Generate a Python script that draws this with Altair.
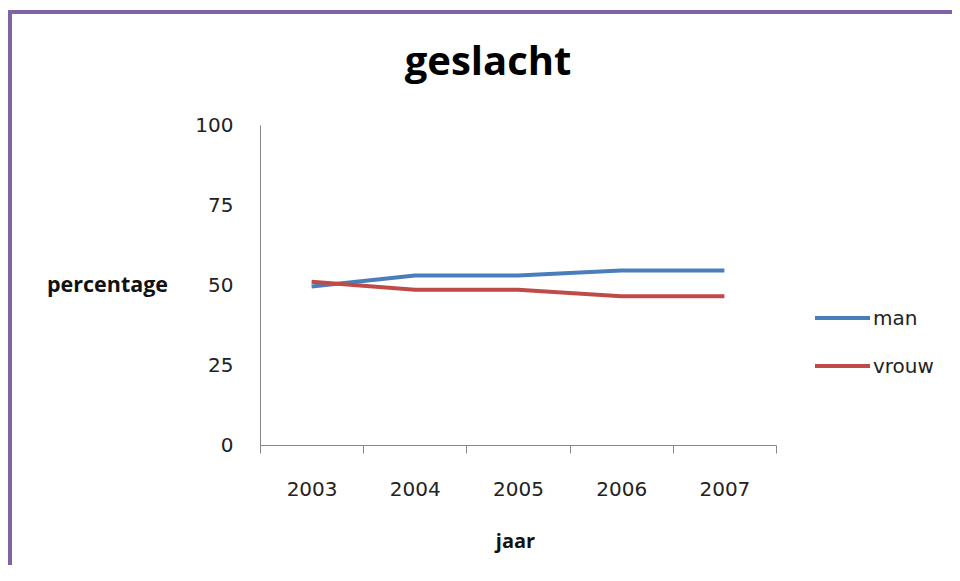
import altair as alt
import pandas as pd

years = ["2003", "2004", "2005", "2006", "2007"]
man = [49.5, 53, 53, 54.5, 54.5]
vrouw = [51, 48.5, 48.5, 46.5, 46.5]
series = ["man", "vrouw"]
colors = ["#4A7EBB", "#BE4B48"]
y_ticks = [0, 25, 50, 75, 100]
title_text = "geslacht"

rows = []
for s, vals in zip(series, [man, vrouw]):
    for yr, v in zip(years, vals):
        rows.append({"jaar": yr, "percentage": v, "reeks": s})
df = pd.DataFrame(rows)

# plot area origin on page: (260, 125)
OX, OY = 260, 125
W, H = 516, 320

tick_font = "DejaVu Sans"
title_font = "Open Sans"

lines = alt.Chart(df).mark_line(strokeWidth=4).encode(
    x=alt.X(
        "jaar:O",
        bandPosition=0.5,
        scale=alt.Scale(type="band", paddingInner=0, paddingOuter=0),
        axis=alt.Axis(
            title="jaar",
            labelAngle=0,
            tickBand="extent",
            tickSize=8,
            tickColor="#868686",
            domainColor="#868686",
            labelFont=tick_font,
            labelFontSize=20,
            labelColor="#222222",
            labelBaseline="top",
            labelPadding=26,
            titleFont=title_font,
            titleFontSize=20,
            titleFontWeight="bold",
            titleColor="#111111",
            titleX=515 - OX,
            titleY=547 - (OY + H),
            titleBaseline="alphabetic",
            titleAlign="center",
            grid=False,
        ),
    ),
    y=alt.Y(
        "percentage:Q",
        scale=alt.Scale(domain=[0, 100]),
        axis=alt.Axis(
            title="percentage",
            values=y_ticks,
            ticks=False,
            tickSize=0,
            domainColor="#868686",
            labelFont=tick_font,
            labelFontSize=20,
            labelColor="#222222",
            labelPadding=27,
            labelBaseline="middle",
            titleFont=title_font,
            titleFontSize=21.5,
            titleFontWeight="bold",
            titleColor="#111111",
            titleAngle=0,
            titleX=107 - OX,
            titleY=291 - OY,
            titleAlign="center",
            titleBaseline="alphabetic",
            grid=False,
        ),
    ),
    color=alt.Color(
        "reeks:N",
        scale=alt.Scale(domain=series, range=colors),
        legend=None,
    ),
    order=alt.Order("jaar:O"),
)

title_df = pd.DataFrame({"t": [title_text]})
title = alt.Chart(title_df).mark_text(
    font=title_font, fontSize=40, fontWeight="bold", color="#000000",
    align="center", baseline="alphabetic",
).encode(text="t:N", x=alt.value(488 - OX), y=alt.value(75 - OY))

leg_df = pd.DataFrame({"reeks": series})
legend_layers = []
leg_line_y = [318, 366]
leg_text_y = [325, 373]
for s, c, ly, ty in zip(series, colors, leg_line_y, leg_text_y):
    base = alt.Chart(leg_df).transform_filter(alt.datum.reeks == s)
    legend_layers.append(
        base.mark_rule(strokeWidth=4, color=c).encode(
            x=alt.value(815 - OX), x2=alt.value(870 - OX), y=alt.value(ly - OY)
        )
    )
    legend_layers.append(
        base.mark_text(
            font=tick_font, fontSize=20, color="#222222",
            align="left", baseline="alphabetic",
        ).encode(text="reeks:N", x=alt.value(873 - OX), y=alt.value(ty - OY))
    )

border_df = pd.DataFrame({"b": [1]})
border_color = "#8064A2"
top_border = alt.Chart(border_df).mark_rule(strokeWidth=4, color=border_color).encode(
    x=alt.value(8 - OX), x2=alt.value(952 - OX), y=alt.value(12 - OY)
)
left_border = alt.Chart(border_df).mark_rule(strokeWidth=4, color=border_color).encode(
    x=alt.value(10 - OX), y=alt.value(10 - OY), y2=alt.value(565 - OY)
)

chart = alt.layer(top_border, left_border, title, lines, *legend_layers).properties(
    width=W,
    height=H,
    autosize=alt.AutoSizeParams(type="none"),
    padding={"left": OX - 8, "top": OY - 8, "right": 944 - (OX - 8) - W, "bottom": 557 - (OY - 8) - H},
    background="white",
).configure_view(stroke=None)

chart.save("out.html", embed_options={"renderer": "svg", "actions": False})
